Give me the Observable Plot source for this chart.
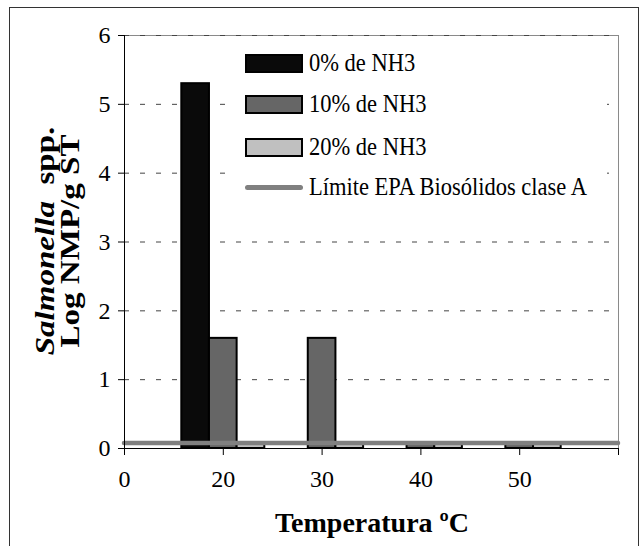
<!DOCTYPE html>
<html><head><meta charset="utf-8">
<script src="https://cdn.jsdelivr.net/npm/d3@7"></script>
<script src="https://cdn.jsdelivr.net/npm/@observablehq/plot@0.6"></script>
<style>
body{margin:0;background:#fff;}
#wrap{position:relative;width:642px;height:546px;overflow:hidden;font-family:"Liberation Serif","Times New Roman",serif;color:#000;}
#wrap svg{position:absolute;left:0;top:0;}
#border{position:absolute;left:9px;top:7px;width:630px;height:600px;border:1.5px solid #333;box-sizing:border-box;}
#legend{position:absolute;left:232px;top:42px;width:375px;height:160px;background:#fff;}
.lg{position:absolute;left:0;height:30px;}
.sw{position:absolute;left:13px;top:2px;width:58px;height:19px;border:2px solid #000;box-sizing:border-box;}
.ln{position:absolute;left:13px;top:9px;width:58px;height:5px;border-radius:3px;background:#808080;}
.lt{position:absolute;left:77px;top:-3px;font-size:25px;line-height:28px;white-space:nowrap;transform:scaleX(0.9);transform-origin:0 50%;}
#ytitle{position:absolute;left:57px;top:241px;transform:translate(-50%,-50%) rotate(-90deg) scaleX(1.18);text-align:center;font-weight:bold;font-size:28px;line-height:25px;white-space:nowrap;}
#xtitle{position:absolute;left:372px;top:507px;transform:translateX(-50%);font-weight:bold;font-size:28px;line-height:32px;white-space:nowrap;}
</style>
</head><body>
<div id="wrap">
<div id="border"></div>
<div id="chart"></div>
<div id="legend"></div>
<div id="ytitle"><i>Salmonella</i>&nbsp; spp.<br>Log NMP/g ST</div>
<div id="xtitle">Temperatura ºC</div>
</div>
<script>
// ---- data ----
const temps = ["20", "30", "40", "50"];
const xTickLabels = ["0", "20", "30", "40", "50", ""];
const seriesNames = ["0% de NH3", "10% de NH3", "20% de NH3"];
const nh3_0 = [5.3, null, null, null];
const nh3_10 = [1.6, 1.6, 0.07, 0.07];
const nh3_20 = [0.07, 0.07, 0.07, 0.07];
const epaLimit = 0.08;
const epaName = "Límite EPA Biosólidos clase A";
const yTicks = [0, 1, 2, 3, 4, 5, 6];
const seriesColors = ["#0a0a0a", "#666666", "#c0c0c0"];

const allSeries = [nh3_0, nh3_10, nh3_20];
const barW = 0.28;
const rows = [];
allSeries.forEach((vals, k) => {
  vals.forEach((v, i) => {
    if (v == null) return;
    const c = (i + 1) + (k - 1) * barW;
    rows.push({temp: temps[i], series: seriesNames[k], value: v, x1: c - barW / 2, x2: c + barW / 2});
  });
});

const serif = "'Liberation Serif', 'Times New Roman', serif";

const chart = Plot.plot({
  width: 642, height: 546,
  marginLeft: 124, marginRight: 24, marginTop: 35, marginBottom: 98,
  style: {fontFamily: serif, fontSize: "24px", color: "#000", background: "transparent", overflow: "visible"},
  x: {domain: [0, 5], axis: null, label: null},
  y: {domain: [0, 6], axis: null, label: null},
  color: {domain: seriesNames, range: seriesColors},
  marks: [
    Plot.frame({stroke: "#8a8a8a", strokeWidth: 1}),
    Plot.ruleY(yTicks.filter(d => d > 0), {stroke: "#444", strokeWidth: 1, strokeDasharray: "5,11"}),
    Plot.rectY(rows, {x1: "x1", x2: "x2", y1: 0, y2: "value", fill: "series", stroke: "#000", strokeWidth: 2}),
    Plot.ruleY([epaLimit], {stroke: "#808080", strokeWidth: 4.5, strokeLinecap: "round"}),
    Plot.ruleX([0], {stroke: "#000", strokeWidth: 1}),
    Plot.ruleY([0], {stroke: "#000", strokeWidth: 1}),
    Plot.axisY(yTicks, {label: null, tickFormat: d => String(d), tickSize: 6, tickPadding: 8, fontSize: 24, fontFamily: serif, stroke: "#000", fill: "#000"}),
    Plot.axisX(d3.range(xTickLabels.length), {label: null, tickFormat: i => xTickLabels[i], tickSize: 7, tickPadding: 14, fontSize: 24, fontFamily: serif, stroke: "#000", fill: "#000"})
  ]
});
document.getElementById("chart").appendChild(chart);

// legend
const legend = document.getElementById("legend");
const rowsTop = [10, 51, 94, 134];
seriesNames.forEach((name, k) => {
  const r = document.createElement("div");
  r.className = "lg"; r.style.top = rowsTop[k] + "px";
  r.innerHTML = `<div class="sw" style="background:${seriesColors[k]}"></div><div class="lt">${name}</div>`;
  legend.appendChild(r);
});
const r = document.createElement("div");
r.className = "lg"; r.style.top = rowsTop[3] + "px";
r.innerHTML = `<div class="ln"></div><div class="lt">${epaName}</div>`;
legend.appendChild(r);
</script>
</body></html>
